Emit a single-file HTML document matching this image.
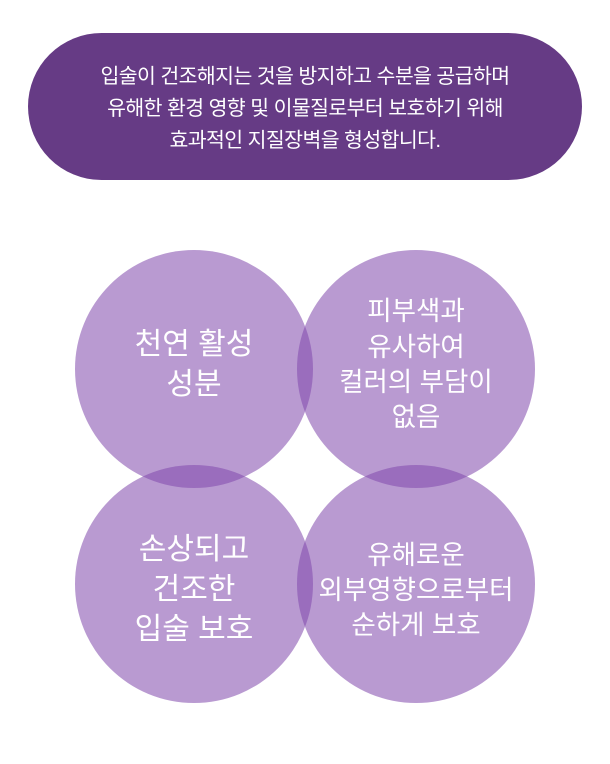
<!DOCTYPE html>
<html><head><meta charset="utf-8"><style>
html,body{margin:0;padding:0;background:#fff;width:610px;height:764px;overflow:hidden}
body{font-family:"Liberation Sans","Noto Sans CJK KR",sans-serif;position:relative}
.pill{position:absolute;left:28px;top:33px;width:554px;height:147px;border-radius:74px;background:#663b85;color:#fff;text-align:center;font-size:20.5px;line-height:32px;box-sizing:border-box;padding-top:28px;letter-spacing:-0.6px}
svg{position:absolute;left:0;top:0}
svg text{font-family:"Liberation Sans","Noto Sans CJK KR",sans-serif;fill:#fff;text-anchor:middle}
</style></head><body>
<div class="pill">입술이 건조해지는 것을 방지하고 수분을 공급하며<br>유해한 환경 영향 및 이물질로부터 보호하기 위해<br>효과적인 지질장벽을 형성합니다.</div>
<svg width="610" height="764">
<g fill="rgb(129,74,172)" fill-opacity="0.557">
<circle cx="194" cy="369" r="119"/>
<circle cx="416" cy="369" r="119"/>
<circle cx="194" cy="584" r="119"/>
<circle cx="416" cy="584" r="119"/>
</g>
<g font-size="30">
<text x="194" y="354">천연 활성</text>
<text x="194" y="394">성분</text>
<text x="194" y="559">손상되고</text>
<text x="194" y="599">건조한</text>
<text x="194" y="639">입술 보호</text>
</g>
<g font-size="26.5">
<text x="416" y="320">피부색과</text>
<text x="416" y="356">유사하여</text>
<text x="416" y="391">컬러의 부담이</text>
<text x="416" y="426">없음</text>
<text x="416" y="564">유해로운</text>
<text x="416" y="599">외부영향으로부터</text>
<text x="416" y="634">순하게 보호</text>
</g>
</svg>
</body></html>
